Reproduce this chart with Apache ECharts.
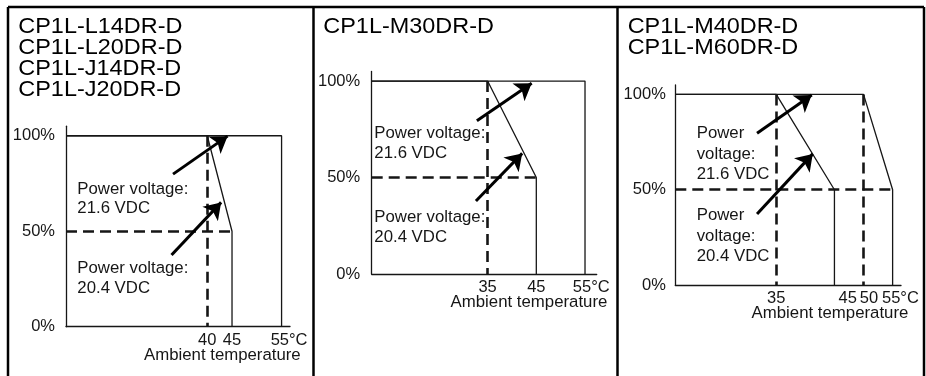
<!DOCTYPE html>
<html><head><meta charset="utf-8">
<script src="https://cdn.jsdelivr.net/npm/echarts@6/dist/echarts.min.js"></script>
<style>html,body{margin:0;padding:0;background:#fff}#c{width:926px;height:376px}</style>
</head><body><div id="c"></div>
<script>
// ---------------- data ----------------
const panelTitles = [
  ['CP1L-L14DR-D', 'CP1L-L20DR-D', 'CP1L-J14DR-D', 'CP1L-J20DR-D'],
  ['CP1L-M30DR-D'],
  ['CP1L-M40DR-D', 'CP1L-M60DR-D']
];
const yTickValues = [0, 50, 100];
const xTickValues = [[40, 45, 55], [35, 45, 55], [35, 45, 50, 55]];
const xAxisName = 'Ambient temperature';
// schematic axis span (°C) of each panel
const xAxisStart = [11.5, 11.2, 17.65];
const xAxisEnd = [56.7, 57.4, 56.44];
const yAxisEnd = 105;

// curves: [temperature °C, load %]; every curve starts at the axis origin at 100 %
const curve216 = [
  [[55, 100], [55, 0]],
  [[55, 100], [55, 0]],
  [[50, 100], [55, 50], [55, 0]]
];
const curve204 = [
  [[40, 100], [45, 50], [45, 0]],
  [[35, 100], [45, 50], [45, 0]],
  [[35, 100], [45, 50], [45, 0]]
];
// dashed guides (null x = axis origin)
const guides = [
  [[[40, 100], [40, 0]], [[null, 50], [45, 50]]],
  [[[35, 100], [35, 0]], [[null, 50], [45, 50]]],
  [[[35, 100], [35, 0]], [[50, 100], [50, 0]], [[null, 50], [55, 50]]]
];
// annotation arrows [tail, tip]
const arrows = [
  [[[33.1, 79.9], [44.1, 99.8]], [[32.8, 37.5], [42.8, 65.1]]],
  [[[32.8, 79.4], [44.05, 98.8]], [[32.6, 37.8], [42.1, 62.5]]],
  [[[31.7, 79.6], [41.1, 99.7]], [[31.7, 37.3], [41.27, 68.8]]]
];
const notes = [
  ['Power voltage:\n21.6 VDC', 'Power voltage:\n20.4 VDC'],
  ['Power voltage:\n21.6 VDC', 'Power voltage:\n20.4 VDC'],
  ['Power\nvoltage:\n21.6 VDC', 'Power\nvoltage:\n20.4 VDC']
];

// ---------------- layout / style ----------------
const FONT = "'Liberation Sans', Arial, Helvetica, sans-serif";
const INK = '#161616';
const grids = [
  { left: 66, top: 126.2, width: 224, height: 200.5 },
  { left: 371.7, top: 71.4, width: 225, height: 202.6 },
  { left: 675.3, top: 84.9, width: 225.7, height: 200.1 }
];
const yLabelMargin = [11, 11.5, 9.5];
const nameGap = [10.7, 10.6, 7.3];
const labelShift = [{ 55: 7.5 }, { 55: 6.2 }, { 45: 13.3, 50: 5.5, 55: 7.8 }];
const titlePos = [[18.3, 17], [323.3, 17], [627.7, 17]];
const notePos = [
  [[77.3, 179.3], [77.3, 259]],
  [[374.3, 123.7], [374.3, 207.7]],
  [[696.7, 123.3], [696.7, 205.6]]
];
const noteLH = [19.5, 20, 20.5];

const chart = echarts.init(document.getElementById('c'), null, { renderer: 'canvas' });

const xAxes = [], yAxes = [], series = [], graphics = [];
for (let i = 0; i < 3; i++) {
  const rich = {};
  Object.keys(labelShift[i]).forEach(k => {
    rich['s' + k] = { padding: [0, 0, 0, 2 * labelShift[i][k]], fontSize: 16.5, fontFamily: FONT, color: INK };
  });
  xAxes.push({
    type: 'value', gridIndex: i, min: xAxisStart[i], max: xAxisEnd[i],
    name: xAxisName, nameLocation: 'end', nameGap: nameGap[i], nameMoveOverlap: false,
    nameTextStyle: { align: 'right', verticalAlign: 'top', padding: [20, 0, 0, 0], fontSize: 16.8, fontFamily: FONT, color: INK },
    axisLine: { lineStyle: { color: INK, width: 1.3 } },
    axisTick: { show: false }, splitLine: { show: false },
    axisLabel: {
      customValues: xTickValues[i], margin: 5, fontSize: 16.5, fontFamily: FONT, color: INK,
      formatter: v => {
        const t = v === 55 ? '55°C' : String(v);
        return labelShift[i][v] !== undefined ? '{s' + v + '|' + t + '}' : t;
      },
      rich: rich
    }
  });
  yAxes.push({
    type: 'value', gridIndex: i, min: 0, max: yAxisEnd,
    axisLine: { show: true, lineStyle: { color: INK, width: 1.3 } },
    axisTick: { show: false }, splitLine: { show: false },
    axisLabel: { customValues: yTickValues, margin: yLabelMargin[i], fontSize: 16.5, fontFamily: FONT, color: INK, formatter: v => v + '%' }
  });
  const o = xAxisStart[i];
  [curve216[i], curve204[i]].forEach((c, k) => {
    series.push({
      type: 'line', name: k === 0 ? '21.6 VDC' : '20.4 VDC', xAxisIndex: i, yAxisIndex: i,
      data: [[o, 100]].concat(c), symbol: 'none', clip: false,
      lineStyle: { color: INK, width: 1.3 }, z: 3
    });
  });
  series.push({
    type: 'lines', coordinateSystem: 'cartesian2d', xAxisIndex: i, yAxisIndex: i,
    data: guides[i].map(s => ({ coords: s.map(p => [p[0] === null ? o : p[0], p[1]]) })),
    lineStyle: { color: INK, width: 2.6, type: [11, 6], opacity: 1 }, z: 2
  });
  series.push({
    type: 'lines', coordinateSystem: 'cartesian2d', xAxisIndex: i, yAxisIndex: i,
    data: arrows[i].map(s => ({ coords: s })),
    symbol: ['none', 'arrow'], symbolSize: [0, 16],
    lineStyle: { color: '#000', width: 3, opacity: 1 }, z: 5
  });
  graphics.push({
    type: 'text', x: titlePos[i][0], y: titlePos[i][1], scaleX: 1.09,
    style: { text: panelTitles[i].join('\n'), fontSize: 21.5, fontFamily: FONT, fill: '#000', lineHeight: 21, align: 'left', verticalAlign: 'top' }
  });
  notes[i].forEach((t, k) => {
    graphics.push({
      type: 'text', x: notePos[i][k][0], y: notePos[i][k][1],
      style: { text: t, fontSize: 16.8, fontFamily: FONT, fill: INK, lineHeight: noteLH[i], align: 'left', verticalAlign: 'top' }
    });
  });
}
// table frame
[[8, 7, 924, 7], [8, 7, 8, 380], [313.5, 7, 313.5, 380], [617.5, 7, 617.5, 380], [924, 7, 924, 380]].forEach(l => {
  graphics.push({ type: 'line', shape: { x1: l[0], y1: l[1], x2: l[2], y2: l[3] }, style: { stroke: '#000', lineWidth: 2.5 } });
});

chart.setOption({
  backgroundColor: '#fff',
  animation: false,
  grid: grids.map(g => Object.assign({ outerBoundsMode: 'none', containLabel: false }, g)),
  xAxis: xAxes,
  yAxis: yAxes,
  series: series,
  graphic: graphics
});
</script></body></html>
